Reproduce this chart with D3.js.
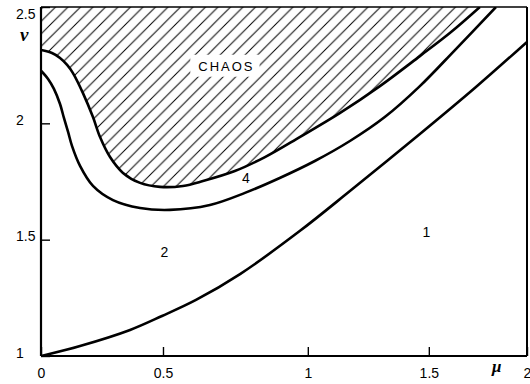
<!DOCTYPE html>
<html>
<head>
<meta charset="utf-8">
<script src="https://cdn.jsdelivr.net/npm/d3@7"></script>
<style>
  html, body { margin: 0; padding: 0; background: #fff; }
  svg { display: block; }
</style>
</head>
<body>
<svg id="chart" width="530" height="384"></svg>
<script>
// Parameter plane (mu, nu): boundaries between period-1, period-2, period-4 and chaos.
const muTicks = [0, 0.5, 1, 1.5, 2];
const nuTicks = [1, 1.5, 2, 2.5];

// Boundary between the period-1 and period-2 regions
const boundary12 = [
  [0, 1.0], [0.16, 1.043], [0.365, 1.112], [0.496, 1.172], [0.614, 1.241],
  [0.766, 1.352], [0.972, 1.537], [1.174, 1.709], [1.463, 1.954],
  [1.74, 2.156], [2.0, 2.35]
];

// Boundary between the period-2 and period-4 regions
const boundary24 = [
  [0, 2.226], [0.029, 2.191], [0.053, 2.148], [0.078, 2.083], [0.094, 2.023],
  [0.111, 1.963], [0.127, 1.903], [0.16, 1.817], [0.213, 1.731], [0.295, 1.67],
  [0.406, 1.636], [0.524, 1.628], [0.662, 1.649], [0.783, 1.701], [0.903, 1.765],
  [1.029, 1.838], [1.174, 1.924], [1.318, 2.027], [1.463, 2.16], [1.633, 2.315],
  [1.842, 2.5]
];

// Onset of chaos (lower edge of the hatched region)
const boundaryChaos = [
  [0, 2.315], [0.045, 2.302], [0.078, 2.281], [0.107, 2.251], [0.131, 2.216],
  [0.172, 2.13], [0.213, 2.027], [0.242, 1.941], [0.283, 1.855], [0.336, 1.787],
  [0.406, 1.744], [0.488, 1.727], [0.569, 1.731], [0.638, 1.752], [0.748, 1.795],
  [0.852, 1.855], [0.972, 1.941], [1.132, 2.044], [1.298, 2.16], [1.463, 2.289],
  [1.607, 2.388], [1.76, 2.5]
];

// Region annotations, placed in (mu, nu) units
const regionLabels = [
  { text: "1", mu: 1.49, nu: 1.511 },
  { text: "2", mu: 0.505, nu: 1.425 },
  { text: "4", mu: 0.786, nu: 1.744 },
  { text: "CHAOS", mu: 0.719, nu: 2.226 }
];

const width = 530, height = 384;
const margin = { top: 7, right: 3, bottom: 28, left: 41 };
const iw = width - margin.left - margin.right;
const ih = height - margin.top - margin.bottom;

// The printed mu axis is not evenly graduated; each half-unit gets its own span.
const muTickSpan = [0, 0.251, 0.549, 0.798, 1];

const x = d3.scaleLinear()
  .domain(muTicks)
  .range(muTickSpan.map(f => margin.left + f * iw));
const y = d3.scaleLinear()
  .domain([1, 2.5])
  .range([margin.top + ih, margin.top]);

const svg = d3.select("#chart");
const defs = svg.append("defs");

defs.append("clipPath").attr("id", "plot-clip")
  .append("rect")
  .attr("x", margin.left).attr("y", margin.top)
  .attr("width", iw).attr("height", ih);

// Diagonal hatching used for the chaotic region
const hs = 12.5;
const pat = defs.append("pattern")
  .attr("id", "hatch")
  .attr("patternUnits", "userSpaceOnUse")
  .attr("width", hs).attr("height", hs);
pat.append("path")
  .attr("d", `M0,${hs} L${hs},0 M-2,2 L2,-2 M${hs - 2},${hs + 2} L${hs + 2},${hs - 2}`)
  .attr("stroke", "#000")
  .attr("stroke-width", 1)
  .attr("fill", "none");

const line = d3.line()
  .x(d => x(d[0]))
  .y(d => y(d[1]))
  .curve(d3.curveCatmullRom.alpha(0.5));

const plot = svg.append("g").attr("clip-path", "url(#plot-clip)");

// Hatched chaos region: above the chaos boundary, up to the top of the frame
plot.append("path")
  .attr("d", line(boundaryChaos) + `L${x(0)},${y(2.5)}Z`)
  .attr("fill", "url(#hatch)")
  .attr("stroke", "none");

// Boundary curves
[boundary12, boundary24, boundaryChaos].forEach(pts => {
  plot.append("path")
    .attr("d", line(pts))
    .attr("fill", "none")
    .attr("stroke", "#000")
    .attr("stroke-width", 2.6)
    .attr("stroke-linejoin", "round");
});

// Region labels
const labelFont = "'Liberation Sans', Arial, Helvetica, sans-serif";
const labels = svg.append("g");
regionLabels.forEach(r => {
  const isChaos = r.text === "CHAOS";
  const t = labels.append("text")
    .attr("x", x(r.mu))
    .attr("y", y(r.nu))
    .attr("text-anchor", "middle")
    .attr("font-family", labelFont)
    .attr("font-size", isChaos ? 13 : 14)
    .attr("letter-spacing", isChaos ? 2 : 0)
    .attr("fill", "#000")
    .text(r.text);
  if (isChaos) {
    // clear the hatching behind the word
    const bb = t.node().getBBox();
    labels.insert("rect", "text")
      .attr("x", bb.x - 8).attr("y", bb.y - 4)
      .attr("width", bb.width + 13).attr("height", bb.height + 7)
      .attr("fill", "#fff");
  }
});

// Axes (ticks point into the plot)
const fmt = d3.format("");
const xAxis = svg.append("g")
  .attr("transform", `translate(0,${margin.top + ih})`)
  .call(d3.axisBottom(x).tickValues(muTicks).tickSize(-9).tickFormat(fmt));
xAxis.select(".domain").remove();
xAxis.selectAll(".tick line").attr("stroke", "#000").attr("stroke-width", 1.4);
xAxis.selectAll(".tick text")
  .attr("y", 22).attr("dy", null)
  .attr("font-family", labelFont).attr("font-size", 14).attr("fill", "#000");

const yAxis = svg.append("g")
  .attr("transform", `translate(${margin.left},0)`)
  .call(d3.axisLeft(y).tickValues(nuTicks).tickSize(-9).tickFormat(fmt));
yAxis.select(".domain").remove();
yAxis.selectAll(".tick line").attr("stroke", "#000").attr("stroke-width", 1.4);
yAxis.selectAll(".tick text")
  .attr("text-anchor", "start")
  .attr("x", -25)
  .attr("y", d => d === 2.5 ? 6 : -4)
  .attr("dy", "0.36em")
  .attr("font-family", labelFont).attr("font-size", 14).attr("fill", "#000");

// Frame
const frame = svg.append("g").attr("stroke", "#000").attr("fill", "none");
frame.append("line")
  .attr("x1", margin.left).attr("x2", margin.left + iw)
  .attr("y1", margin.top + ih).attr("y2", margin.top + ih)
  .attr("stroke-width", 2.2);
frame.append("line")
  .attr("x1", margin.left).attr("x2", margin.left)
  .attr("y1", margin.top).attr("y2", margin.top + ih)
  .attr("stroke-width", 2.2);
frame.append("line")
  .attr("x1", margin.left).attr("x2", margin.left + iw)
  .attr("y1", margin.top).attr("y2", margin.top)
  .attr("stroke-width", 1.6);
frame.append("line")
  .attr("x1", margin.left + iw).attr("x2", margin.left + iw)
  .attr("y1", margin.top).attr("y2", margin.top + ih)
  .attr("stroke-width", 2);

// Axis symbols
const symFont = "'Liberation Serif', 'DejaVu Serif', serif";
svg.append("text")
  .attr("x", margin.left - 21).attr("y", margin.top + 34)
  .attr("font-family", symFont).attr("font-style", "italic").attr("font-weight", "bold")
  .attr("font-size", 19).attr("fill", "#000")
  .text("ν");
svg.append("text")
  .attr("x", margin.left + iw - 35).attr("y", margin.top + ih + 16)
  .attr("font-family", symFont).attr("font-style", "italic").attr("font-weight", "bold")
  .attr("font-size", 17).attr("fill", "#000")
  .text("μ");
</script>
</body>
</html>
